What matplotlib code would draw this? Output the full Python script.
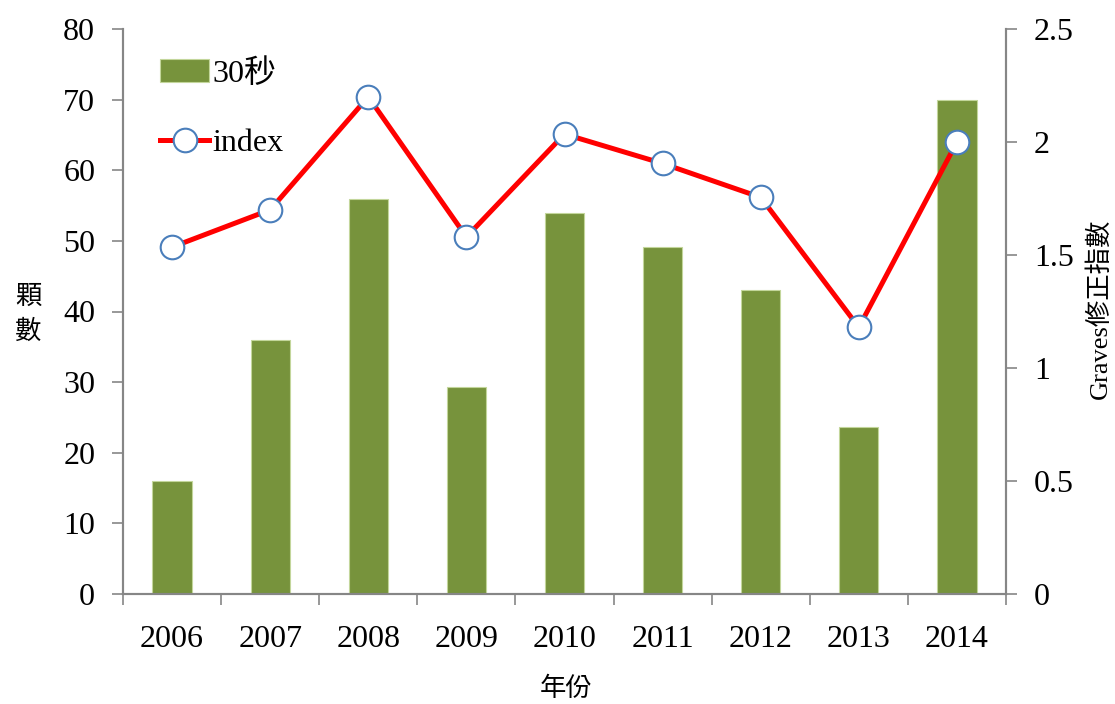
import matplotlib
matplotlib.use("Agg")
import matplotlib.pyplot as plt
import numpy as np

years = ["2006", "2007", "2008", "2009", "2010", "2011", "2012", "2013", "2014"]
counts_30s = [16, 36, 56, 29.3, 54, 49.2, 43, 23.6, 70]
graves_index = [1.535, 1.70, 2.20, 1.58, 2.035, 1.905, 1.755, 1.18, 2.00]

left_ticks = [0, 10, 20, 30, 40, 50, 60, 70, 80]
right_ticks = [0, 0.5, 1, 1.5, 2, 2.5]
right_labels = ["0", "0.5", "1", "1.5", "2", "2.5"]

SERIF = ["Liberation Serif", "Noto Sans CJK TC", "DejaVu Sans"]
plt.rcParams["font.family"] = SERIF

gray = "#868686"
bar_color = "#77933C"
line_color = "#FF0000"
marker_edge = "#4A7EBB"

fig = plt.figure(figsize=(11.15, 7.04), dpi=100)
ax = fig.add_axes([123 / 1115, 1 - 594 / 704, (1006 - 123) / 1115, (594 - 29) / 704])
ax2 = ax.twinx()

x = np.arange(len(years))
bars = ax.bar(x, counts_30s, width=0.4, color=bar_color, edgecolor="#C3D69B",
              linewidth=0.8, label="30秒", zorder=2)
line, = ax2.plot(x, graves_index, color=line_color, linewidth=3.6, marker="o",
                 markersize=17, markerfacecolor="white", markeredgecolor=marker_edge,
                 markeredgewidth=1.5, label="index", zorder=3)

ax.set_xlim(-0.5, len(years) - 0.5)
ax.set_ylim(0, 80)
ax2.set_ylim(0, 2.5)

ax.set_yticks(left_ticks)
ax.set_yticklabels([str(t) for t in left_ticks])
ax2.set_yticks(right_ticks)
ax2.set_yticklabels(right_labels)

ax.set_xticks(x)
ax.set_xticklabels(years)
ax.set_xticks(np.arange(-0.5, len(years) - 0.4, 1.0), minor=True)
ax.tick_params(axis="x", which="major", length=0, pad=22, labelsize=23)
ax.tick_params(axis="x", which="minor", length=8, width=1.2, color=gray, direction="out")
ax.tick_params(axis="y", length=8, width=1.2, color=gray, direction="out", pad=12, labelsize=23)
ax2.tick_params(axis="y", length=8, width=1.2, color=gray, direction="out", pad=12, labelsize=23)

for a in (ax, ax2):
    a.spines["top"].set_visible(False)
    for s in ("left", "right", "bottom"):
        a.spines[s].set_color(gray)
        a.spines[s].set_linewidth(1.5)

ax.set_zorder(1)
ax2.set_zorder(2)
ax.patch.set_visible(False)

leg = fig.legend([bars, line], ["30秒", "index"], loc="upper left",
                 bbox_to_anchor=(147 / 1115, 1 - 46 / 704), frameon=False,
                 prop={"family": SERIF, "size": 23}, handlelength=1.55,
                 handletextpad=0.1, labelspacing=1.25, borderaxespad=0)

fig.text(28 / 1115, 1 - 314 / 704, "顆\n數", ha="center", va="center",
         fontsize=19, family=["Noto Sans CJK TC"], linespacing=1.35)
fig.text(566 / 1115, 1 - 689 / 704, "年份", ha="center", va="center",
         fontsize=19, family=["Noto Sans CJK TC"])
fig.text(1099 / 1115, 1 - 309 / 704, "Graves修正指數", ha="center", va="center",
         rotation=90, fontsize=19, family=SERIF)

fig.savefig("out.png", dpi=100)
